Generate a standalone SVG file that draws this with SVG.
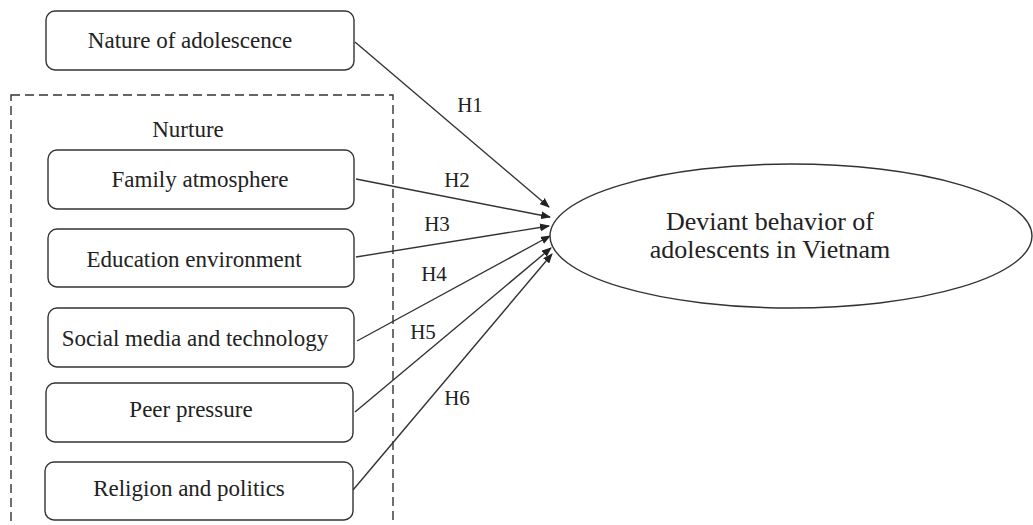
<svg xmlns="http://www.w3.org/2000/svg" width="1033" height="525" viewBox="0 0 1033 525">
<style>
.box{fill:#fff;stroke:#333;stroke-width:1.4}
.t{font-family:"Liberation Serif","Times New Roman",serif;font-size:23px;fill:#222;text-anchor:middle}
.h{font-family:"Liberation Serif","Times New Roman",serif;font-size:21px;fill:#222;text-anchor:middle}
.big{font-family:"Liberation Serif","Times New Roman",serif;font-size:26px;fill:#222;text-anchor:middle}
.c{stroke:#333;stroke-width:1.4;fill:none;marker-end:url(#ah)}
</style>
<defs>
<marker id="ah" markerWidth="10" markerHeight="8" refX="9" refY="4" orient="auto" markerUnits="userSpaceOnUse">
<path d="M0,0 L10,4 L0,8 Z" fill="#222"/>
</marker>
</defs>
<rect width="1033" height="525" fill="#fff"/>
<g id="nurture-group">
<rect x="11" y="95" width="382" height="440" fill="none" stroke="#333" stroke-width="1.4" stroke-dasharray="9 5"/>
<text class="t" x="188" y="137">Nurture</text>
</g>
<g id="connectors">
<line class="c" x1="355" y1="42" x2="549" y2="207"/>
<line class="c" x1="356" y1="179" x2="550" y2="217"/>
<line class="c" x1="356" y1="257" x2="549" y2="226"/>
<line class="c" x1="357" y1="341" x2="550" y2="236"/>
<line class="c" x1="355" y1="412" x2="551" y2="248"/>
<line class="c" x1="353" y1="490" x2="552" y2="254"/>
<text class="h" x="470" y="112">H1</text>
<text class="h" x="457" y="187">H2</text>
<text class="h" x="437" y="231">H3</text>
<text class="h" x="434" y="281">H4</text>
<text class="h" x="423" y="339">H5</text>
<text class="h" x="457" y="405">H6</text>
</g>
<g id="nature">
<rect class="box" x="46" y="11" width="308" height="59" rx="9"/>
<text class="t" x="190" y="48">Nature of adolescence</text>
</g>
<g id="family">
<rect class="box" x="48" y="150" width="306" height="59" rx="9"/>
<text class="t" x="200" y="187">Family atmosphere</text>
</g>
<g id="education">
<rect class="box" x="48" y="229" width="306" height="58" rx="9"/>
<text class="t" x="194" y="267">Education environment</text>
</g>
<g id="social">
<rect class="box" x="48" y="308" width="306" height="59" rx="9"/>
<text class="t" x="195" y="346">Social media and technology</text>
</g>
<g id="peer">
<rect class="box" x="46" y="383" width="307" height="59" rx="9"/>
<text class="t" x="191" y="417">Peer pressure</text>
</g>
<g id="religion">
<rect class="box" x="45" y="462" width="308" height="58" rx="9"/>
<text class="t" x="189" y="496">Religion and politics</text>
</g>
<g id="deviant">
<ellipse cx="791" cy="236" rx="241" ry="72" fill="#fff" stroke="#333" stroke-width="1.4"/>
<text class="big" x="770" y="230">Deviant behavior of</text>
<text class="big" x="770" y="258">adolescents in Vietnam</text>
</g>
</svg>
